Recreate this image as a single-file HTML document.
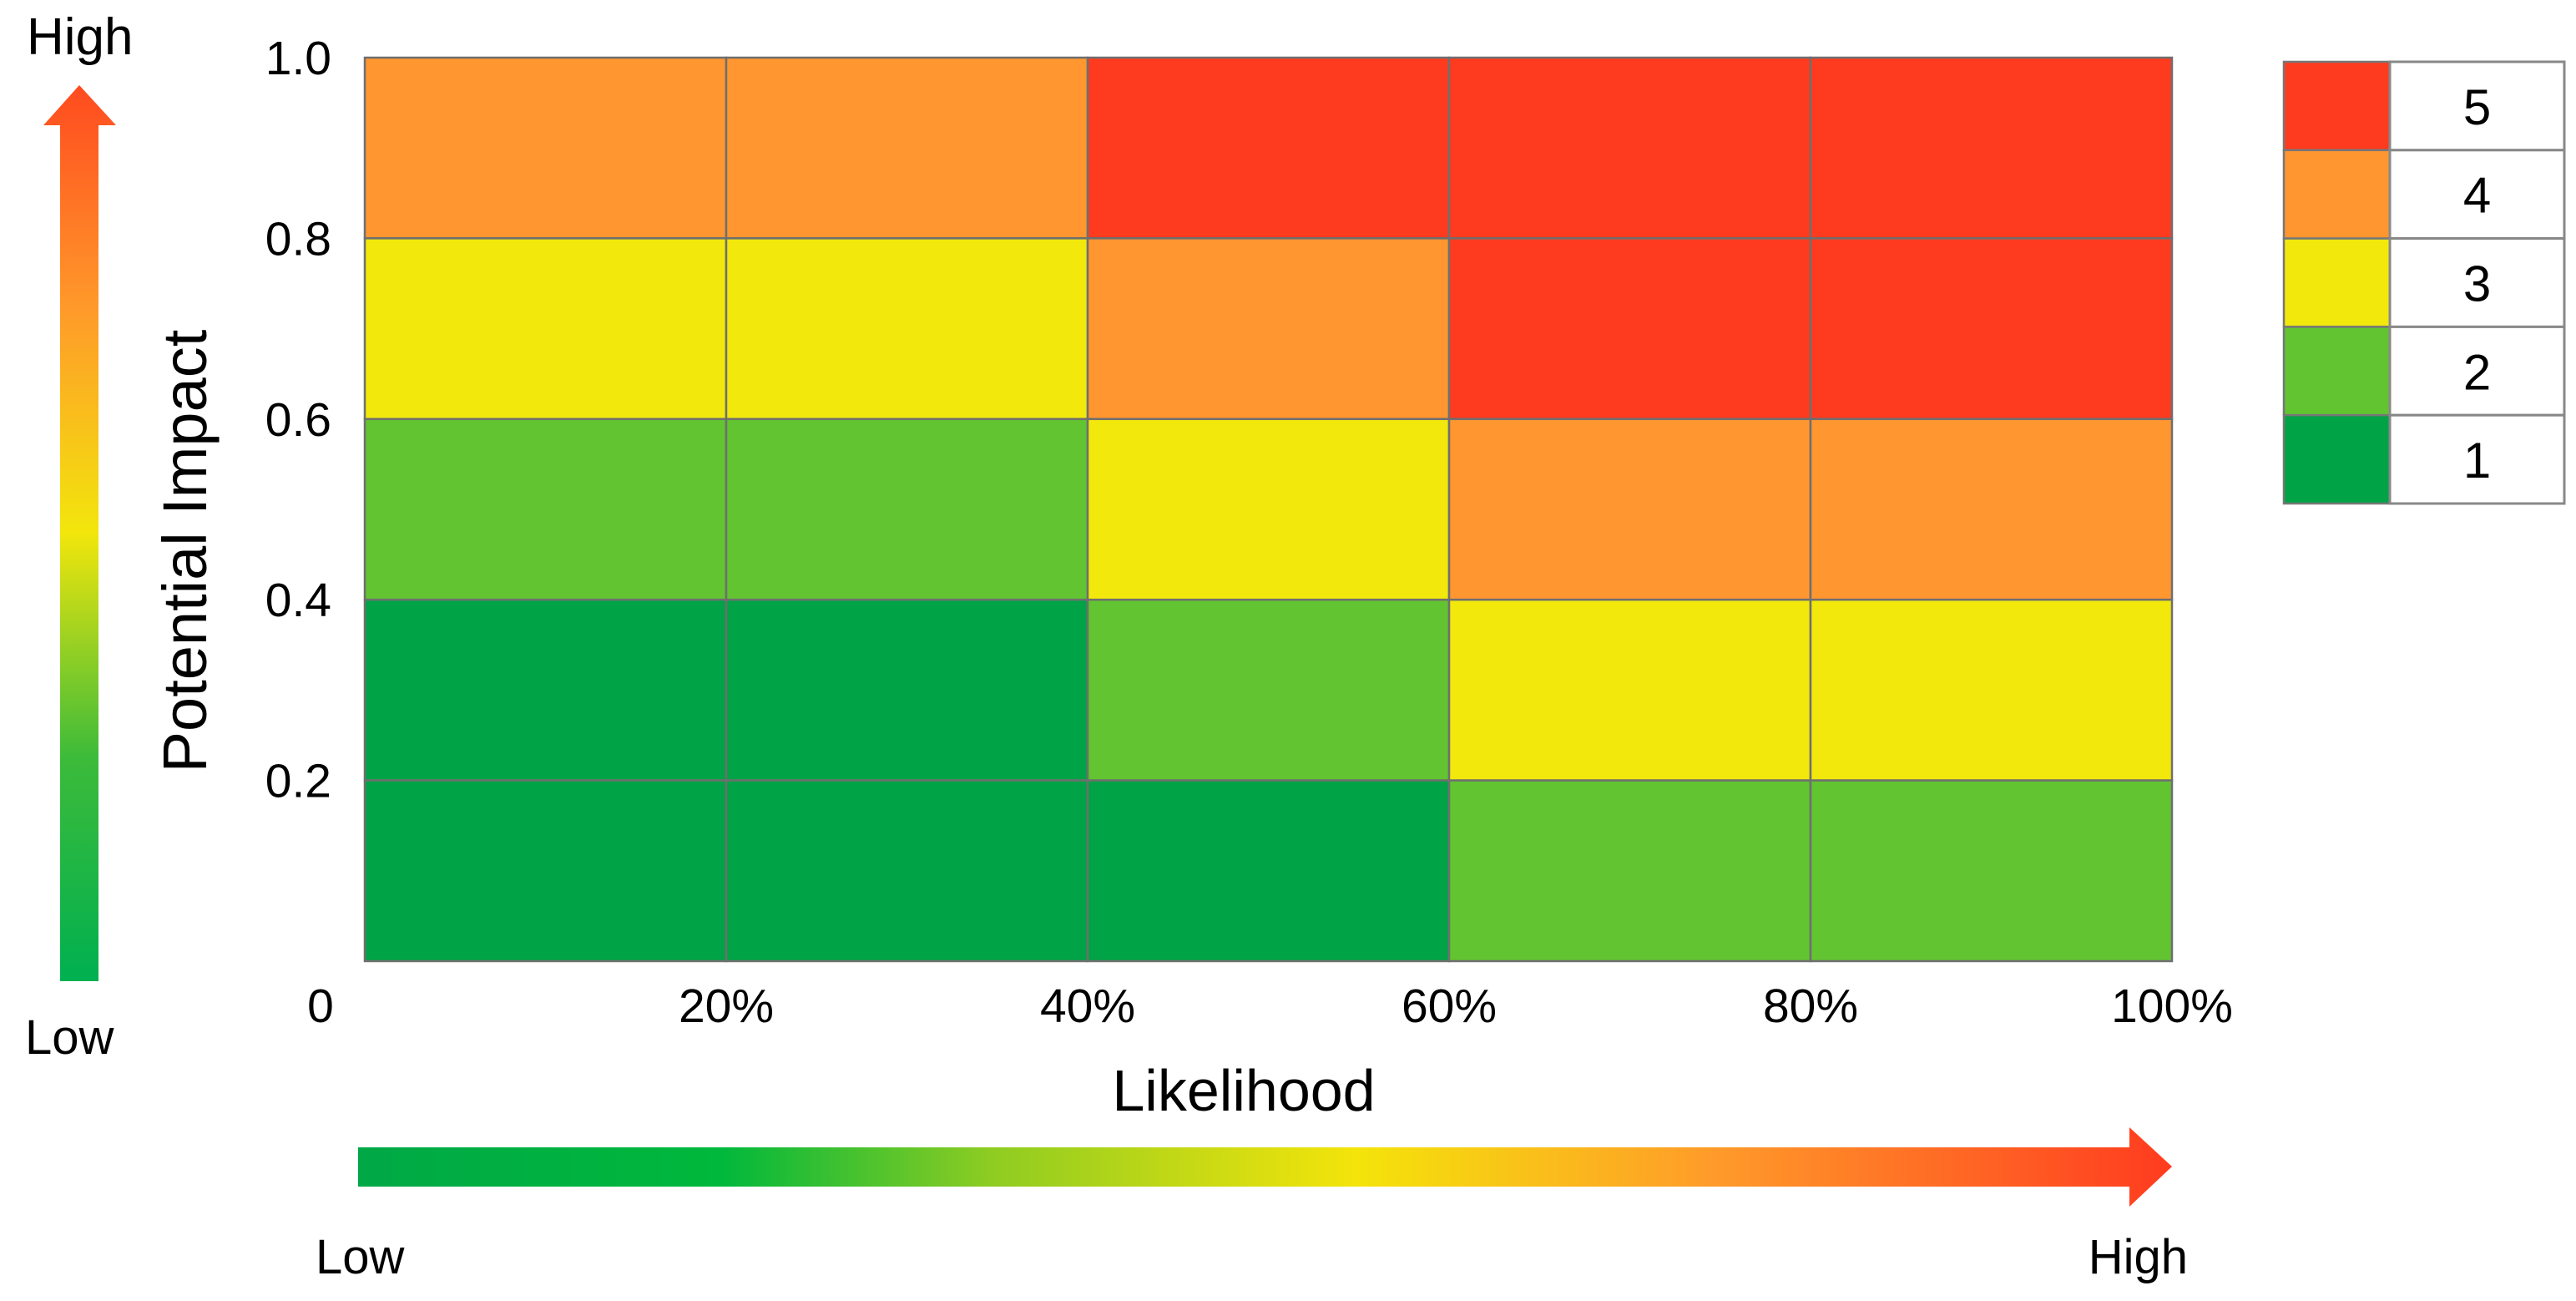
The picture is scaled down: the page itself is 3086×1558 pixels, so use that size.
<!DOCTYPE html>
<html><head><meta charset="utf-8">
<style>
html,body{margin:0;padding:0;background:#fff;}
svg{display:block;font-family:"Liberation Sans",Arial,sans-serif;}
</style></head>
<body>
<svg id="chart" width="3086" height="1558" viewBox="0 0 3086 1558" xmlns="http://www.w3.org/2000/svg">
<defs>
<linearGradient id="vgrad" x1="0" y1="1" x2="0" y2="0">
<stop offset="0" stop-color="#00b050"/>
<stop offset="0.25" stop-color="#3dbb3a"/>
<stop offset="0.5" stop-color="#f2e60c"/>
<stop offset="0.75" stop-color="#ff9a2a"/>
<stop offset="1" stop-color="#ff4a1f"/>
</linearGradient>
<linearGradient id="hgrad" x1="0" y1="0" x2="1" y2="0">
<stop offset="0" stop-color="#00a846"/>
<stop offset="0.2" stop-color="#00b83c"/>
<stop offset="0.35" stop-color="#8fcc22"/>
<stop offset="0.55" stop-color="#f4e40a"/>
<stop offset="0.75" stop-color="#ff9a2a"/>
<stop offset="1" stop-color="#ff3b1f"/>
</linearGradient>
</defs>
<g id="cells"></g>
<g id="yticks"></g>
<g id="xticks"></g>
<g id="legend"></g>

<text transform="translate(247,660) rotate(-90)" text-anchor="middle" font-size="74" fill="#000">Potential Impact</text>
<text x="1490" y="1330" text-anchor="middle" font-size="70" fill="#000">Likelihood</text>

<g>
<path d="M72,150 L118,150 L118,1175 L72,1175 Z M52,150 L95,102 L139,150 Z" fill="url(#vgrad)"/>
</g>
<text x="32" y="65" font-size="62" fill="#000">High</text>
<text x="30" y="1262" font-size="58" fill="#000">Low</text>

<g>
<path d="M429,1374 L2551,1374 L2551,1350 L2602,1397 L2551,1445 L2551,1421 L429,1421 Z" fill="url(#hgrad)"/>
</g>
<text x="378" y="1525" font-size="58" fill="#000">Low</text>
<text x="2621" y="1525" text-anchor="end" font-size="58" fill="#000">High</text>
</svg>
<script>
const xCategories = ["0-20%","20-40%","40-60%","60-80%","80-100%"];
const yCategories = ["0.8-1.0","0.6-0.8","0.4-0.6","0.2-0.4","0-0.2"];
const riskLevels = [
  [4,4,5,5,5],
  [3,3,4,5,5],
  [2,2,3,4,4],
  [1,1,2,3,3],
  [1,1,1,2,2]
];
const xTickLabels = ["0","20%","40%","60%","80%","100%"];
const yTickLabels = ["1.0","0.8","0.6","0.4","0.2"];
const legendLevels = [5,4,3,2,1];
const levelColors = {1:"#00a346",2:"#62c431",3:"#f2e80c",4:"#ff9630",5:"#ff3b1f"};

const NS="http://www.w3.org/2000/svg";
const gx0=437, gx1=2602, gy0=69, gy1=1151;
const cw=(gx1-gx0)/xCategories.length, ch=(gy1-gy0)/yCategories.length;
function xPos(i){return gx0+i*cw;}
function yPos(j){return gy0+j*ch;}
function mk(tag,attrs){const e=document.createElementNS(NS,tag);for(const k in attrs)e.setAttribute(k,attrs[k]);return e;}

const cells=document.getElementById('cells');
riskLevels.forEach((row,j)=>row.forEach((v,i)=>{
  const r=mk('rect',{x:xPos(i),y:yPos(j),width:cw,height:ch,fill:levelColors[v],stroke:"#6f6f6f","stroke-width":2.5});
  
  
  cells.appendChild(r);
}));

const yt=document.getElementById('yticks');
yTickLabels.forEach((t,j)=>{
  const e=mk('text',{x:397,y:yPos(j)+20,"text-anchor":"end","font-size":57,fill:"#000"});
  e.textContent=t;
  
  
  yt.appendChild(e);
});
const xt=document.getElementById('xticks');
xTickLabels.forEach((t,i)=>{
  const cx = i===0 ? 384 : xPos(i);
  const e=mk('text',{x:cx,y:1224,"text-anchor":"middle","font-size":57,fill:"#000"});
  e.textContent=t;
  
  
  xt.appendChild(e);
});

const lg=document.getElementById('legend');
const lx0=2736,lx1=2863,lx2=3072,ly0=74,ly1=603;
const lh=(ly1-ly0)/legendLevels.length;
legendLevels.forEach((lv,k)=>{
  const y=ly0+k*lh;
  const sw=mk('rect',{x:lx0,y:y,width:lx1-lx0,height:lh,fill:levelColors[lv],stroke:"#777","stroke-width":2.5});
  
  
  lg.appendChild(sw);
  const b=mk('rect',{x:lx1,y:y,width:lx2-lx1,height:lh,fill:"#fff",stroke:"#888","stroke-width":3});
  
  
  lg.appendChild(b);
  const t=mk('text',{x:(lx1+lx2)/2,y:y+lh/2+22,"text-anchor":"middle","font-size":60,fill:"#000"});
  t.textContent=lv;
  
  
  lg.appendChild(t);
});
</script>
</body></html>
